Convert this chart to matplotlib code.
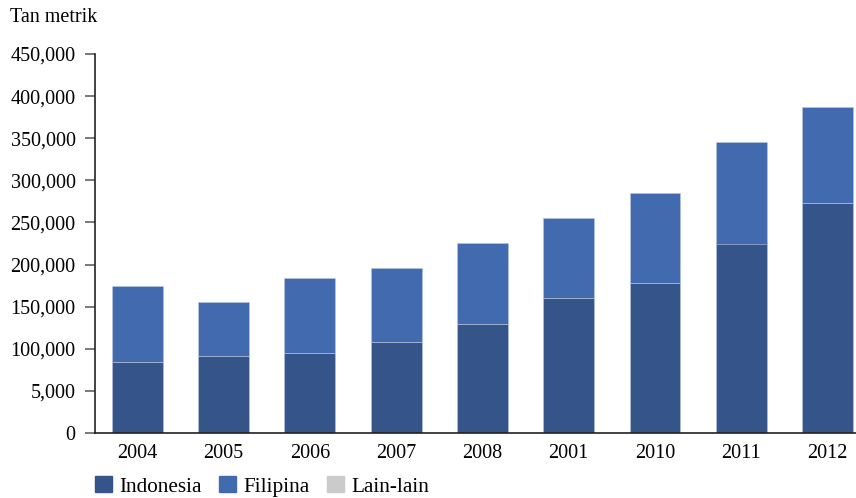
import numpy as np
import matplotlib
matplotlib.use("Agg")
import matplotlib.pyplot as plt
from matplotlib.patches import Patch

plt.rcParams['font.family'] = ['Liberation Serif', 'DejaVu Serif']

# produksi per tahun (tan metrik)
years = ['2004', '2005', '2006', '2007', '2008', '2001', '2010', '2011', '2012']
indonesia = [84000, 91000, 95000, 108000, 130000, 160000, 178000, 225000, 273000]
filipina = [91000, 65000, 89000, 88000, 96000, 95000, 107000, 120000, 114000]
lain_lain = [0, 0, 0, 0, 0, 0, 0, 0, 0]

y_ticks = [0, 50000, 100000, 150000, 200000, 250000, 300000, 350000, 400000, 450000]
y_labels = ['0', '5,000', '100,000', '150,000', '200,000', '250,000',
            '300,000', '350,000', '400,000', '450,000']

c_ind, c_fil, c_lain = '#35558a', '#426baf', '#cbcbcb'

fig = plt.figure(figsize=(8.56, 4.98), dpi=100)
ax = fig.add_axes([95 / 856, 1 - 433 / 498, 1 - 95 / 856, (433 - 54) / 498])

x = np.arange(len(years))
w = 0.59
ax.bar(x, indonesia, w, color=c_ind, edgecolor='#b9c7de', linewidth=0.4)
ax.bar(x, filipina, w, bottom=indonesia, color=c_fil, edgecolor='#b9c7de', linewidth=0.4)
ax.bar(x, lain_lain, w, bottom=np.add(indonesia, filipina), color=c_lain, linewidth=0)

ax.set_xlim(-0.49, 8.33)
ax.set_ylim(0, 450000)
ax.set_yticks(y_ticks)
ax.set_yticklabels(y_labels)
ax.set_xticks(x)
ax.set_xticklabels(years)

for s in ['top', 'right']:
    ax.spines[s].set_visible(False)
for s in ['left', 'bottom']:
    ax.spines[s].set_linewidth(1.2)
    ax.spines[s].set_color('#222222')

ax.tick_params(axis='y', length=7, width=1.1, pad=7, labelsize=14.5, color='#555555')
ax.tick_params(axis='x', length=0, pad=8, labelsize=14.5)

fig.text(10 / 856, 1 - 8 / 498, 'Tan metrik', fontsize=14.5, va='top', ha='left')

handles = [Patch(color=c_ind, label='Indonesia'),
           Patch(color=c_fil, label='Filipina'),
           Patch(color=c_lain, label='Lain-lain')]
fig.legend(handles=handles, loc='lower left', bbox_to_anchor=(91 / 856, -0.006),
           ncol=3, frameon=False, fontsize=15.3, handlelength=0.8, handleheight=0.8,
           handletextpad=0.35, columnspacing=0.8, borderaxespad=0, borderpad=0.2)

fig.savefig('out.png', dpi=100)
